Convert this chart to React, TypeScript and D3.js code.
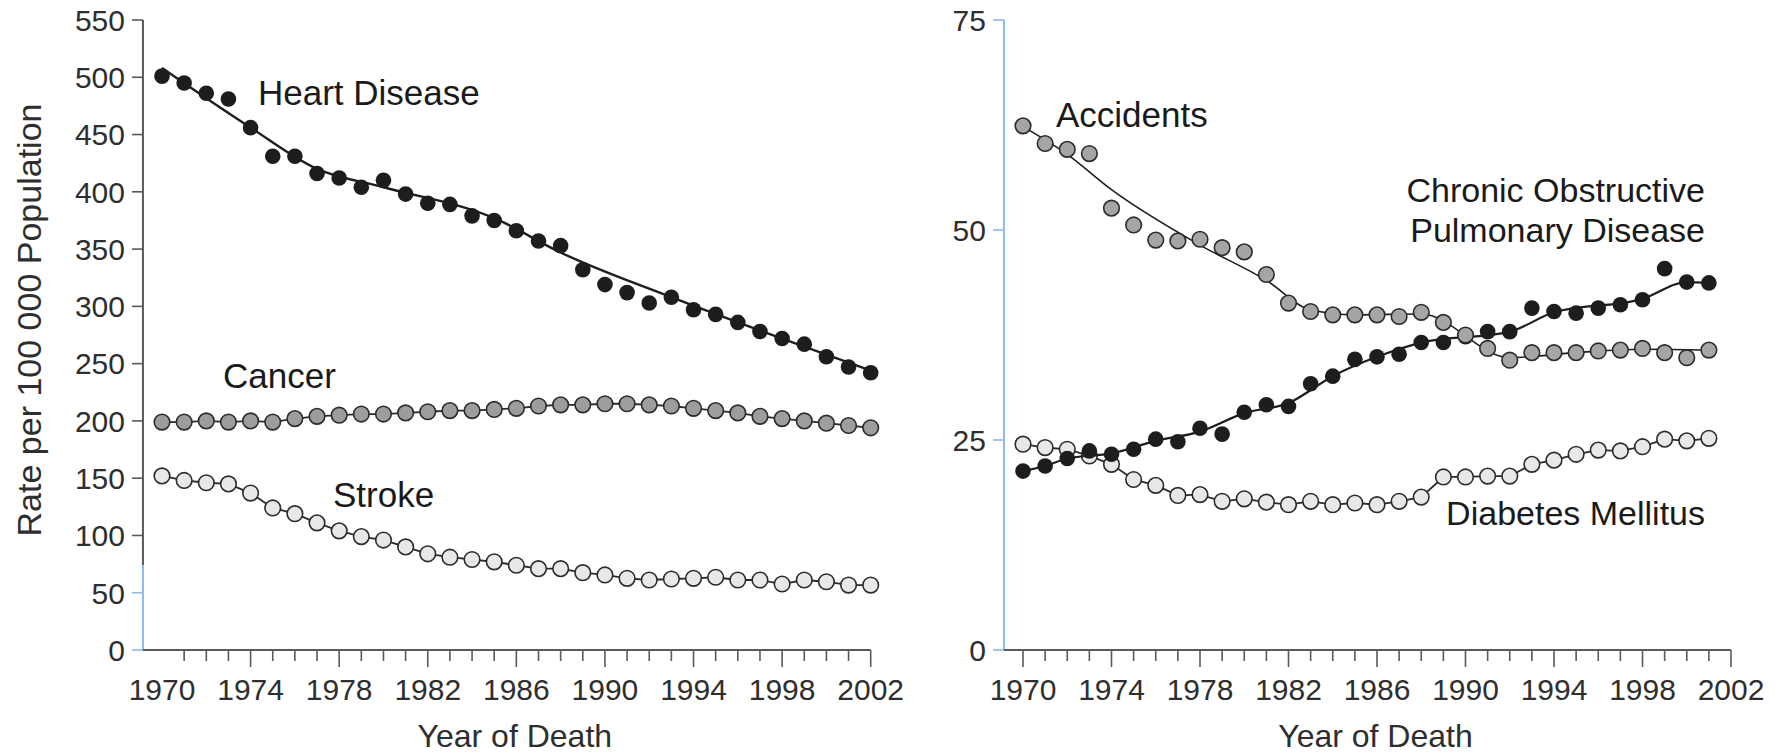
import React from "react";
import * as d3 from "d3";

const leftYears = d3.range(1970, 2003);
const rightYears = d3.range(1970, 2002);

const heartDisease = [501, 495, 486, 481, 456, 431, 431, 416, 412, 404, 410, 398, 390, 389, 379, 375, 366, 357, 353, 332, 319, 312, 303, 308, 297, 293, 286, 278, 272, 267, 256, 247, 242];
const heartTrend: [number, number][] = [[1970, 508], [1974, 456], [1977, 420], [1980, 404], [1985, 377], [1988, 347], [1993, 308], [2002, 244]];
const cancer = [199, 199, 200, 199, 200, 199, 202, 204, 205, 206, 206, 207, 208, 209, 209, 210, 211, 213, 214, 214, 215, 215, 214, 213, 211, 209, 207, 204, 202, 200, 198, 196, 194];
const stroke = [152, 148, 146, 145, 137, 124, 119, 111, 104, 99, 96, 90, 84, 81, 79, 77, 74, 71, 71, 67.5, 65.5, 62.6, 61.1, 62, 62.6, 63.5, 61.1, 61.1, 57.6, 61.1, 59.6, 56.7, 56.7];

const accidents = [62.4, 60.3, 59.6, 59.1, 52.6, 50.6, 48.8, 48.7, 48.9, 47.9, 47.4, 44.7, 41.3, 40.3, 39.9, 39.9, 39.9, 39.7, 40.2, 39.0, 37.5, 35.9, 34.5, 35.4, 35.4, 35.4, 35.6, 35.7, 35.9, 35.4, 34.8, 35.7];
const accidentsTrend: [number, number][] = [[1970, 62.3], [1972, 59.0], [1974, 54.8], [1978, 48.2], [1981, 44.0], [1983, 40.5], [1985, 39.9], [1988, 40.0], [1992, 34.8], [1995, 35.4], [1998, 35.8], [2001, 35.7]];
const copd = [21.3, 21.9, 22.8, 23.7, 23.3, 23.9, 25.1, 24.8, 26.4, 25.7, 28.3, 29.2, 29.0, 31.7, 32.6, 34.6, 34.9, 35.2, 36.6, 36.6, 37.3, 37.9, 37.9, 40.7, 40.3, 40.1, 40.7, 41.1, 41.7, 45.4, 43.8, 43.7];
const copdTrend: [number, number][] = [[1970, 21.3], [1971, 21.9], [1972, 22.8], [1974, 23.4], [1976, 24.9], [1978, 26.0], [1980, 28.2], [1982, 29.4], [1984, 32.6], [1986, 34.9], [1988, 36.6], [1992, 37.9], [1994, 40.2], [1998, 41.8], [2000, 43.8], [2001, 43.7]];
const diabetes = [24.5, 24.1, 23.9, 23.1, 22.1, 20.3, 19.6, 18.4, 18.5, 17.7, 18.0, 17.6, 17.3, 17.7, 17.3, 17.5, 17.3, 17.7, 18.2, 20.6, 20.6, 20.7, 20.7, 22.1, 22.6, 23.3, 23.8, 23.7, 24.2, 25.1, 24.9, 25.2];

const leftYTicks = [0, 50, 100, 150, 200, 250, 300, 350, 400, 450, 500, 550];
const rightYTicks = [0, 25, 50, 75];
const xLabelYears = [1970, 1974, 1978, 1982, 1986, 1990, 1994, 1998, 2002];

const FONT = "'Liberation Sans', Arial, Helvetica, sans-serif";
const BLUE = "#8cb9ee";
const AXIS = "#5a5a5a";
const R = 7.8;

type Pt = [number, number];

function Panel(props: {
  x0: number; x1: number; y0: number; y1: number; yMax: number; yTicks: number[];
  blueAbove: number; firstTick: number;
  children: (x: d3.ScaleLinear<number, number>, y: d3.ScaleLinear<number, number>) => React.ReactNode;
}) {
  const { x0, x1, y0, y1, yMax, yTicks } = props;
  const x = d3.scaleLinear().domain([1970, 2002]).range([x0, x1]);
  const y = d3.scaleLinear().domain([0, yMax]).range([y0, y1]);
  const axisX = x(1970) - (x(1971) - x(1970)) * 0.86;
  const tickYears = d3.range(props.firstTick, 2003);
  const splitY = y(props.blueAbove);
  return (
    <g>
      <line x1={axisX} x2={axisX} y1={y(yMax)} y2={splitY} stroke={AXIS} strokeWidth={2} />
      <line x1={axisX} x2={axisX} y1={splitY} y2={y(0)} stroke={BLUE} strokeWidth={2} />
      {yTicks.map((t) => (
        <g key={t}>
          <line x1={axisX - 11} x2={axisX} y1={y(t)} y2={y(t)} stroke={t <= props.blueAbove ? BLUE : AXIS} strokeWidth={1.6} />
          <text x={axisX - 18} y={y(t)} dy="0.36em" textAnchor="end" fontSize={30} fill="#2e2e2e" fontFamily={FONT}>{t}</text>
        </g>
      ))}
      <line x1={axisX} x2={x(2002)} y1={y(0)} y2={y(0)} stroke={AXIS} strokeWidth={2} />
      {tickYears.map((yr) => (
        <line key={yr} x1={x(yr)} x2={x(yr)} y1={y(0)} y2={y(0) + ((yr - 1970) % 4 === 0 ? 17 : 11)} stroke={AXIS} strokeWidth={1.6} />
      ))}
      {xLabelYears.map((yr) => (
        <text key={yr} x={x(yr)} y={700} textAnchor="middle" fontSize={30} fill="#2e2e2e" fontFamily={FONT}>{yr}</text>
      ))}
      <text x={(axisX + x(2002)) / 2 + 8} y={747} textAnchor="middle" fontSize={32} fill="#2e2e2e" fontFamily={FONT}>Year of Death</text>
      {props.children(x, y)}
    </g>
  );
}

function Series(props: { x: any; y: any; years: number[]; values: number[]; fill: string; connect: boolean }) {
  const { x, y, years, values, fill, connect } = props;
  const pts: Pt[] = years.map((yr, i) => [x(yr), y(values[i])]);
  const line = d3.line();
  return (
    <g>
      {connect && <path d={line(pts) || ""} fill="none" stroke="#2a2a2a" strokeWidth={1.8} />}
      {pts.map((p, i) => (
        <circle key={i} cx={p[0]} cy={p[1]} r={R} fill={fill} stroke="#2b2b2b" strokeWidth={1.6} />
      ))}
    </g>
  );
}

function Trend(props: { x: any; y: any; data: [number, number][]; width: number }) {
  const { x, y, data, width } = props;
  const line = d3.line<[number, number]>().x((d) => x(d[0])).y((d) => y(d[1])).curve(d3.curveMonotoneX);
  return <path d={line(data) || ""} fill="none" stroke="#1e1e1e" strokeWidth={width} />;
}

export default function App() {
  return (
    <svg width={1785} height={755} style={{ position: "absolute", left: 0, top: 0, background: "#fff" }}>
      <rect width={1785} height={755} fill="#fff" />
      <text transform="translate(41,320) rotate(-90)" textAnchor="middle" fontSize={34} fill="#2e2e2e" fontFamily={FONT}>Rate per 100 000 Population</text>

      <Panel x0={162} x1={870.7} y0={650} y1={20} yMax={550} yTicks={leftYTicks} blueAbove={74} firstTick={1971}>
        {(x, y) => (
          <g>
            <Series x={x} y={y} years={leftYears} values={cancer} fill="#9d9d9d" connect={true} />
            <Series x={x} y={y} years={leftYears} values={stroke} fill="#e8e8e8" connect={true} />
            <Trend x={x} y={y} data={heartTrend} width={2.4} />
            {leftYears.map((yr, i) => (
              <circle key={yr} cx={x(yr)} cy={y(heartDisease[i])} r={R} fill="#1f1c1d" />
            ))}
            <text x={258} y={105} fontSize={35} fill="#1a1a1a" fontFamily={FONT}>Heart Disease</text>
            <text x={223} y={388} fontSize={35} fill="#1a1a1a" fontFamily={FONT}>Cancer</text>
            <text x={333} y={507} fontSize={35} fill="#1a1a1a" fontFamily={FONT}>Stroke</text>
          </g>
        )}
      </Panel>

      <Panel x0={1023} x1={1731} y0={650} y1={20} yMax={75} yTicks={rightYTicks} blueAbove={75} firstTick={1970}>
        {(x, y) => (
          <g>
            <Series x={x} y={y} years={rightYears} values={diabetes} fill="#e8e8e8" connect={true} />
            <Trend x={x} y={y} data={copdTrend} width={2.2} />
            {rightYears.map((yr, i) => (
              <circle key={yr} cx={x(yr)} cy={y(copd[i])} r={R} fill="#1f1c1d" />
            ))}
            <Trend x={x} y={y} data={accidentsTrend} width={1.6} />
            <Series x={x} y={y} years={rightYears} values={accidents} fill="#a5a5a5" connect={false} />
            <text x={1056} y={127} fontSize={35} fill="#1a1a1a" fontFamily={FONT}>Accidents</text>
            <text x={1705} y={202} textAnchor="end" fontSize={34} fill="#1a1a1a" fontFamily={FONT}>Chronic Obstructive</text>
            <text x={1705} y={242} textAnchor="end" fontSize={34} fill="#1a1a1a" fontFamily={FONT}>Pulmonary Disease</text>
            <text x={1705} y={525} textAnchor="end" fontSize={34} fill="#1a1a1a" fontFamily={FONT}>Diabetes Mellitus</text>
          </g>
        )}
      </Panel>
    </svg>
  );
}
